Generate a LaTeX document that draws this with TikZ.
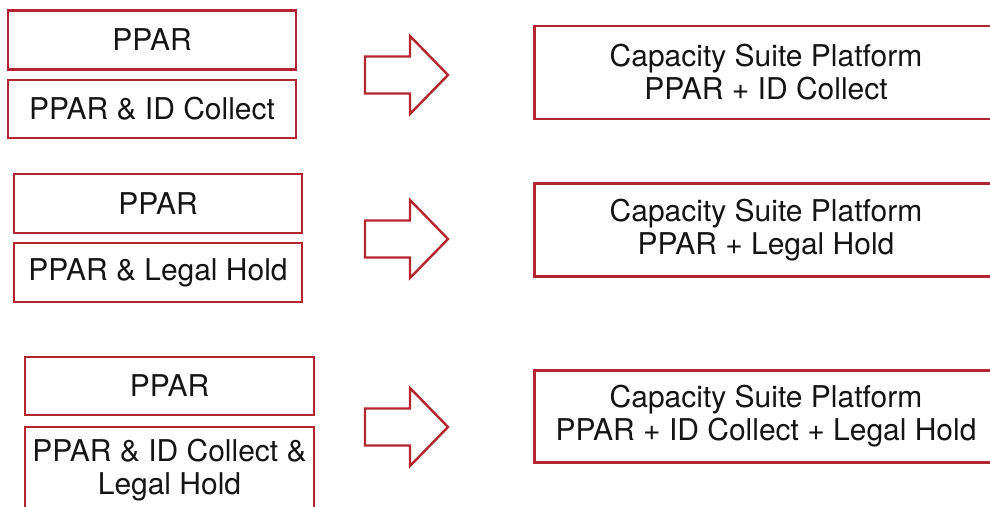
\documentclass[tikz,border=0pt]{standalone}
\usepackage{fontspec}
\setmainfont{TeX Gyre Heros}
\definecolor{boxred}{RGB}{181,37,47}
\definecolor{txt}{RGB}{20,20,20}
\begin{document}
\begin{tikzpicture}[x=1pt,y=-1pt,
  box/.style={draw=boxred,line width=2.4pt,inner sep=0pt,align=center,
    text=txt,font=\fontsize{30}{33}\selectfont},
  leftbox/.style={box,minimum width=288pt,minimum height=59pt},
  rightbox/.style={box,minimum width=463pt,minimum height=93pt},
  blockarrow/.style={draw=boxred,line width=2.4pt,line join=miter},
  pics/fatarrow/.style={code={
    \draw[blockarrow] (0,-18.5) -- (45,-18.5) -- (45,-39) -- (83,0)
      -- (45,39) -- (45,18.5) -- (0,18.5) -- cycle;}}]
\useasboundingbox (0,0) rectangle (990,506);
% row 1
\node[leftbox] (a1) at (152,40) {PPAR};
\node[leftbox,minimum height=58pt] (a2) at (152,109) {PPAR \& ID Collect};
\pic at (365,75) {fatarrow};
\node[rightbox] (r1) at (766,72.5) {Capacity Suite Platform\\PPAR + ID Collect};
% row 2
\node[leftbox] (b1) at (158,203.5) {PPAR};
\node[leftbox] (b2) at (158,272.5) {PPAR \& Legal Hold};
\pic at (365,239) {fatarrow};
\node[rightbox] (r2) at (766,230) {Capacity Suite Platform\\PPAR + Legal Hold};
% row 3
\node[leftbox,minimum width=289pt,minimum height=58pt] (c1) at (169.5,386) {PPAR};
\node[leftbox,minimum width=289pt,minimum height=86pt] (c2) at (169.5,470) {PPAR \& ID Collect \&\\Legal Hold};
\pic at (365,427) {fatarrow};
\node[rightbox,minimum height=92pt] (r3) at (766,416.5) {Capacity Suite Platform\\PPAR + ID Collect + Legal Hold};
\end{tikzpicture}
\end{document}
